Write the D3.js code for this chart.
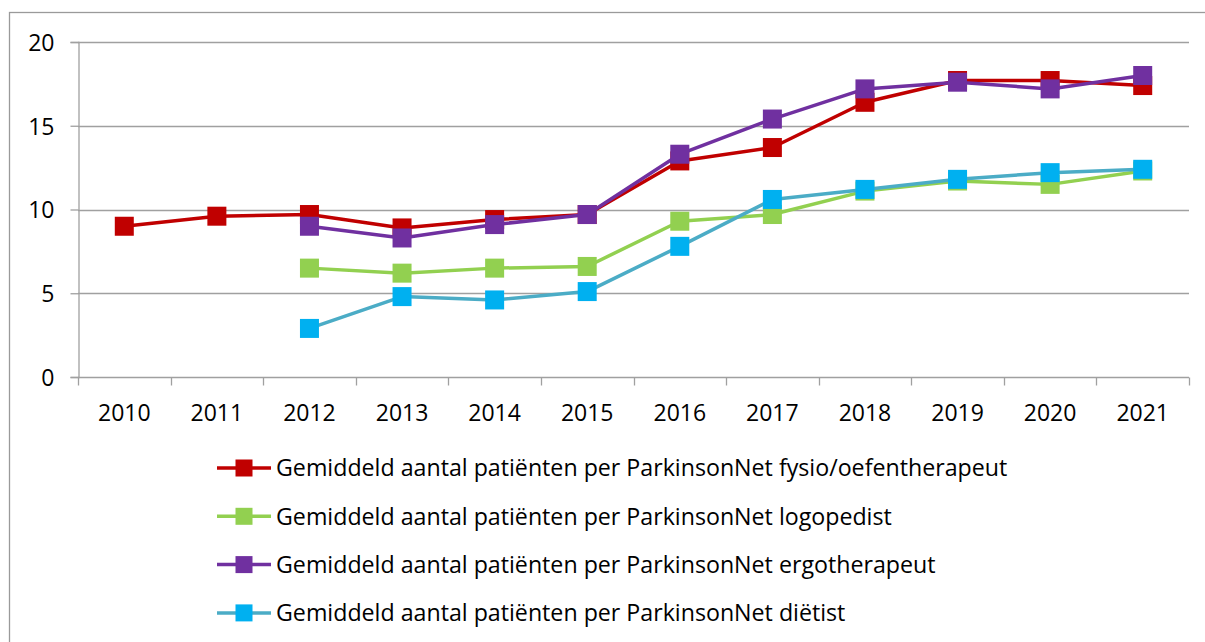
<!DOCTYPE html>
<html>
<head>
<meta charset="utf-8">
<script src="https://cdn.jsdelivr.net/npm/d3@7"></script>
<style>
    body { margin:0; background:#fff; }
    svg text { font-family:"Open Sans", sans-serif; fill:#000; }
</style>
</head>
<body>
<svg id="chart" width="1205" height="642"></svg>
<script>
// -- data
var years = ["2010","2011","2012","2013","2014","2015","2016","2017","2018","2019","2020","2021"];
var yTicks = [0, 5, 10, 15, 20];

var fysio = [9.0, 9.6, 9.7, 8.9, 9.4, 9.7, 12.9, 13.7, 16.4, 17.7, 17.7, 17.4];
var logopedist = [null, null, 6.5, 6.2, 6.5, 6.6, 9.3, 9.7, 11.1, 11.7, 11.5, 12.3];
var ergo = [null, null, 9.0, 8.3, 9.1, 9.7, 13.3, 15.4, 17.2, 17.6, 17.2, 18.0];
var dietist = [null, null, 2.9, 4.8, 4.6, 5.1, 7.8, 10.6, 11.2, 11.8, 12.2, 12.4];

var seriesNames = [
    "Gemiddeld aantal patiënten per ParkinsonNet fysio/oefentherapeut",
    "Gemiddeld aantal patiënten per ParkinsonNet logopedist",
    "Gemiddeld aantal patiënten per ParkinsonNet ergotherapeut",
    "Gemiddeld aantal patiënten per ParkinsonNet diëtist"
];
var lineColors = ["#C00000", "#92D050", "#7030A0", "#4BACC6"];
var markerColors = ["#C00000", "#92D050", "#7030A0", "#00B0F0"];

var series = [fysio, logopedist, ergo, dietist].map(function(vals, i){
    return {name: seriesNames[i], line: lineColors[i], marker: markerColors[i],
        values: vals.map(function(v, j){ return {year: years[j], value: v}; })};
});

// -- layout
var svg = d3.select("#chart");
var plot = {left:78, right:1189, top:42, bottom:377};

// outer frame (runs off the right and bottom of the window)
svg.append("rect").attr("x", 9.5).attr("y", 12.5).attr("width", 1220).attr("height", 660)
    .style("fill", "none").style("stroke", "#9a9a9a").style("stroke-width", 1.3);

var x = d3.scaleBand().domain(years).range([plot.left, plot.right]);
var y = d3.scaleLinear().domain([0, 20]).range([plot.bottom, plot.top]);

// -- gridlines
svg.append("g").selectAll("line").data(yTicks.filter(function(d){return d > 0;})).enter().append("line")
    .attr("x1", plot.left).attr("x2", plot.right)
    .attr("y1", function(d){return Math.round(y(d)) + 0.5;})
    .attr("y2", function(d){return Math.round(y(d)) + 0.5;})
    .style("stroke", "#a0a0a0").style("stroke-width", 1.3);

// -- y axis
var yAxis = svg.append("g").attr("transform", "translate(" + (plot.left + 0.5) + ",0)")
    .call(d3.axisLeft(y).tickValues(yTicks).tickSize(8).tickPadding(16));
yAxis.select(".domain").style("stroke", "#a0a0a0").style("stroke-width", 1.3);
yAxis.selectAll(".tick line").style("stroke", "#a0a0a0").style("stroke-width", 1.3);
yAxis.selectAll("text").style("font-size", "23px").style("fill", "#000").attr("dy", "0.36em");

// -- x axis (ticks on category boundaries)
var xAxis = svg.append("g").attr("transform", "translate(0," + (Math.round(plot.bottom) + 0.5) + ")");
xAxis.append("line").attr("x1", plot.left).attr("x2", plot.right)
    .style("stroke", "#a0a0a0").style("stroke-width", 1.3);
var boundaries = years.map(function(d){return x(d);}).concat([plot.right]);
xAxis.selectAll(".xtick").data(boundaries).enter().append("line")
    .attr("class", "xtick")
    .attr("x1", function(d){return Math.round(d) + 0.5;})
    .attr("x2", function(d){return Math.round(d) + 0.5;})
    .attr("y1", 0).attr("y2", 8)
    .style("stroke", "#a0a0a0").style("stroke-width", 1.3);
xAxis.selectAll(".xlabel").data(years).enter().append("text")
    .attr("class", "xlabel")
    .attr("x", function(d){return x(d) + x.bandwidth()/2;})
    .attr("y", 43)
    .attr("text-anchor", "middle")
    .style("font-size", "23px")
    .text(function(d){return d;});

// -- lines and markers
var line = d3.line()
    .defined(function(d){return d.value != null;})
    .x(function(d){return x(d.year) + x.bandwidth()/2;})
    .y(function(d){return y(d.value);});

var groups = svg.append("g").selectAll(".series").data(series).enter().append("g").attr("class", "series");

groups.append("path")
    .attr("d", function(d){return line(d.values);})
    .style("fill", "none")
    .style("stroke", function(d){return d.line;})
    .style("stroke-width", 3.5)
    .style("stroke-linejoin", "round");

var mk = 19;
groups.selectAll("rect").data(function(d){
    return d.values.filter(function(v){return v.value != null;}).map(function(v){return {v:v, c:d.marker};});
}).enter().append("rect")
    .attr("x", function(d){return x(d.v.year) + x.bandwidth()/2 - mk/2;})
    .attr("y", function(d){return y(d.v.value) - mk/2;})
    .attr("width", mk).attr("height", mk)
    .style("fill", function(d){return d.c;});

// -- legend
var legend = svg.append("g").selectAll(".legendItem").data(series).enter().append("g")
    .attr("class", "legendItem")
    .attr("transform", function(d, i){return "translate(217," + (468 + i * 48.3) + ")";});

legend.append("line").attr("x1", 0).attr("x2", 54).attr("y1", 0).attr("y2", 0)
    .style("stroke", function(d){return d.line;}).style("stroke-width", 3.5);
legend.append("rect").attr("x", 27 - 8.5).attr("y", -8.5).attr("width", 17).attr("height", 17)
    .style("fill", function(d){return d.marker;});
legend.append("text").attr("x", 59).attr("y", 0).attr("dy", "0.36em")
    .style("font-size", "23.2px")
    .text(function(d){return d.name;});
</script>
</body>
</html>
